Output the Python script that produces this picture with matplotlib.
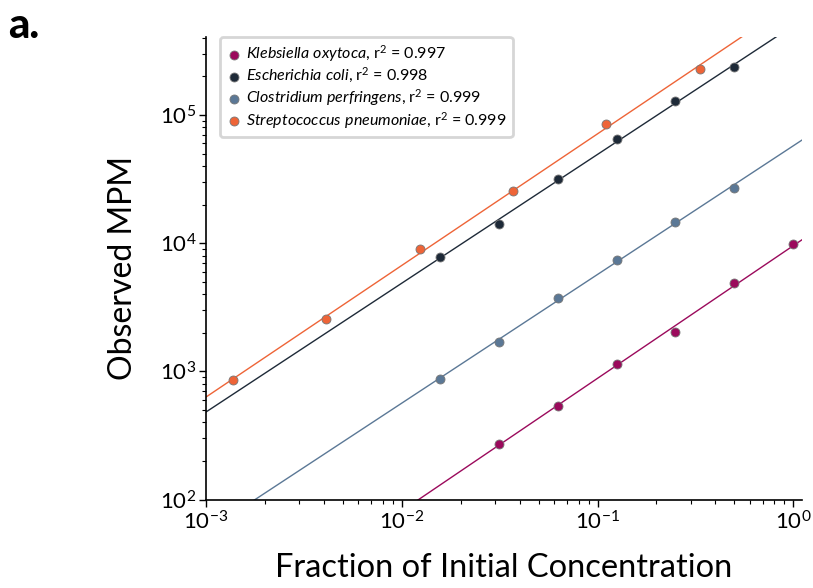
import numpy as np
import matplotlib
matplotlib.use("Agg")
import matplotlib.pyplot as plt

plt.rcParams['font.family'] = ['Lato', 'DejaVu Sans']
plt.rcParams['mathtext.fontset'] = 'custom'
plt.rcParams['mathtext.rm'] = 'Lato'
plt.rcParams['mathtext.it'] = 'Lato:italic'
plt.rcParams['mathtext.bf'] = 'Lato:bold'

# ---- data ----
species = ["Klebsiella oxytoca", "Escherichia coli", "Clostridium perfringens", "Streptococcus pneumoniae"]
r2_labels = ["0.997", "0.998", "0.999", "0.999"]
colors = ["#9B0A5C", "#1E2A38", "#5B7896", "#EE6437"]

kleb_x = [1/32, 1/16, 1/8, 1/4, 1/2, 1]
kleb_y = [272, 537, 1143, 2029, 4890, 9770]

ecoli_x = [1/64, 1/32, 1/16, 1/8, 1/4, 1/2]
ecoli_y = [7800, 14030, 31840, 64600, 128000, 235500]

clos_x = [1/64, 1/32, 1/16, 1/8, 1/4, 1/2]
clos_y = [867, 1703, 3751, 7380, 14700, 27100]

strep_x = [1/729, 1/243, 1/81, 1/27, 1/9, 1/3]
strep_y = [861, 2557, 8950, 25400, 85500, 228600]

series = [(kleb_x, kleb_y), (ecoli_x, ecoli_y), (clos_x, clos_y), (strep_x, strep_y)]

xlim = (1e-3, 1.104)
ylim = (1e2, 4.06e5)

fig = plt.figure(figsize=(8.13, 5.88), dpi=100)
ax = fig.add_axes([0.2534, 0.1505, 0.7327, 0.7866])
ax.set_xscale('log')
ax.set_yscale('log')

xx = np.logspace(np.log10(xlim[0]), np.log10(xlim[1]), 200)
for (sx, sy), c, name, r2 in zip(series, colors, species, r2_labels):
    lx, ly = np.log10(sx), np.log10(sy)
    m, b = np.polyfit(lx, ly, 1)
    ax.plot(xx, 10 ** (m * np.log10(xx) + b), color=c, lw=1.0, zorder=2)
    nm = name.replace(" ", r"\ ")
    ax.scatter(sx, sy, s=42, color=c, edgecolor="#777777", linewidth=0.6, zorder=3,
               label=r"$\it{" + nm + r"}$, r$^2$ = " + r2)

ax.set_xlim(*xlim)
ax.set_ylim(*ylim)
for sp in ['top', 'right']:
    ax.spines[sp].set_visible(False)
for sp in ['left', 'bottom']:
    ax.spines[sp].set_linewidth(1.2)

ax.tick_params(which='major', length=5, width=1.0, labelsize=16, direction='out')
ax.tick_params(which='minor', length=3, width=0.8, direction='out')
ax.tick_params(axis='x', pad=3)
ax.tick_params(axis='y', pad=2)

ax.set_xlabel("Fraction of Initial Concentration", fontsize=23.5, labelpad=14)
ax.set_ylabel("Observed MPM", fontsize=23, labelpad=16)

leg = ax.legend(loc='upper left', bbox_to_anchor=(0.0235, 1.0), borderaxespad=0,
                fontsize=11.5, handletextpad=0.2, handlelength=1.0, labelspacing=0.12,
                borderpad=0.4, frameon=True, fancybox=True, scatterpoints=1)
leg.get_frame().set_edgecolor("#CCCCCC")
leg.get_frame().set_linewidth(2.0)

fig.text(0.010, 0.988, "a.", fontsize=30, fontweight='black', va='top', ha='left')

fig.savefig("out.png", dpi=100)
